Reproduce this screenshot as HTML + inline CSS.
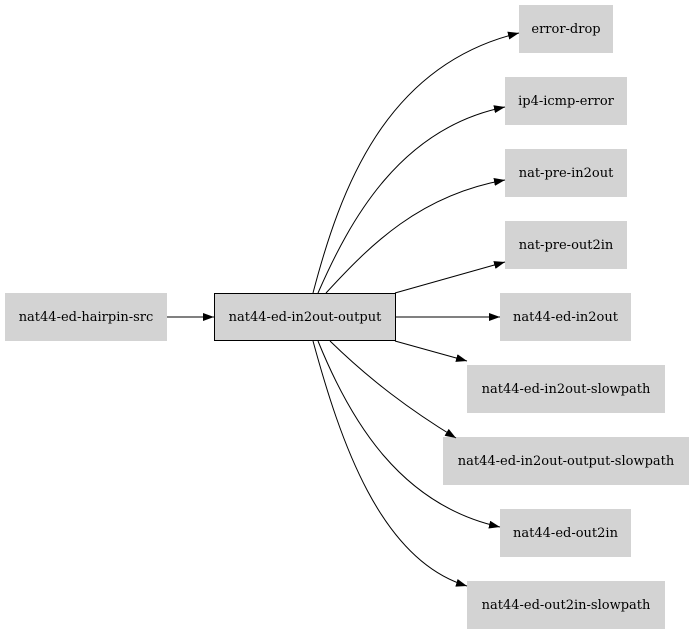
<!DOCTYPE html>
<html><head><style>
html,body{margin:0;padding:0;background:#fff;}
svg{display:block;font-family:"DejaVu Serif",serif;font-size:13px;}
</style></head><body>
<svg width="695" height="635" viewBox="0 0 695 635">
<defs><marker id="a" markerWidth="11" markerHeight="8" refX="11" refY="4" orient="auto" markerUnits="userSpaceOnUse"><path d="M0,0 L11,4 L0,8 Z" fill="#000"/></marker></defs>
<g fill="#d3d3d3">
<rect x="5" y="293" width="162" height="48"/>
<rect x="519" y="5" width="94" height="48"/>
<rect x="505" y="77" width="122" height="48"/>
<rect x="505" y="149" width="122" height="48"/>
<rect x="505" y="221" width="122" height="48"/>
<rect x="500" y="293" width="131" height="48"/>
<rect x="467" y="365" width="198" height="48"/>
<rect x="443" y="437" width="246" height="48"/>
<rect x="500" y="509" width="131" height="48"/>
<rect x="467" y="581" width="198" height="48"/>
</g>
<rect x="214.5" y="293.5" width="181" height="47" fill="#d3d3d3" stroke="#000" stroke-width="1"/>
<g fill="none" stroke="#000" stroke-width="1" marker-end="url(#a)">
<path d="M167,317 L214,317"/>
<path d="M313,293 C340,190 385,65 519,33"/>
<path d="M318,293 C350,220 400,128 505,107"/>
<path d="M326,293 C370,245 420,195 505,180"/>
<path d="M395,293 L505,262"/>
<path d="M396,317 L500,317"/>
<path d="M395,341 L467,361"/>
<path d="M330,341 C370,380 410,410 456,438"/>
<path d="M318,341 C350,420 400,505 500,527"/>
<path d="M313,341 C340,440 380,560 467,586"/>
</g>
<g text-anchor="middle" fill="#000">
<text x="86" y="321">nat44-ed-hairpin-src</text>
<text x="305" y="321">nat44-ed-in2out-output</text>
<text x="566" y="33">error-drop</text>
<text x="566" y="105">ip4-icmp-error</text>
<text x="566" y="177">nat-pre-in2out</text>
<text x="566" y="249">nat-pre-out2in</text>
<text x="565.5" y="321">nat44-ed-in2out</text>
<text x="566" y="393">nat44-ed-in2out-slowpath</text>
<text x="566" y="465">nat44-ed-in2out-output-slowpath</text>
<text x="565.5" y="537">nat44-ed-out2in</text>
<text x="566" y="609">nat44-ed-out2in-slowpath</text>
</g>
</svg>
</body></html>
